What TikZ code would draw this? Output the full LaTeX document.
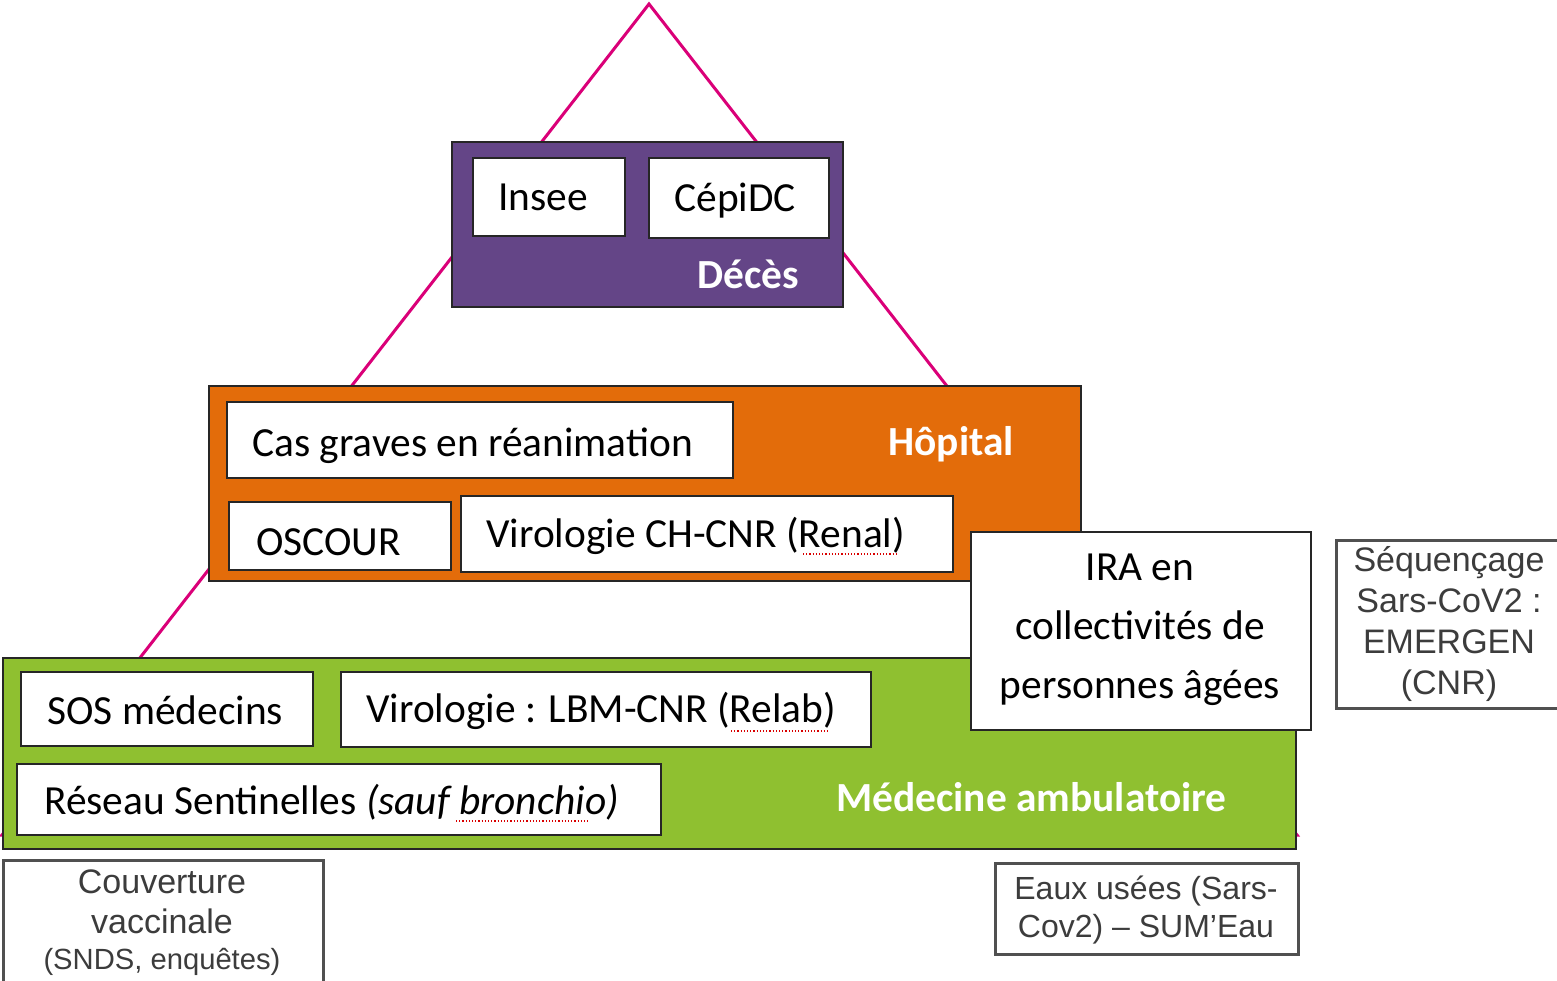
\documentclass[tikz,border=0pt]{standalone}
\usepackage{fontspec}
\setmainfont{Carlito}
\newfontfamily\arialf{Liberation Sans}
\definecolor{tricol}{RGB}{218,0,120}
\definecolor{purp}{RGB}{100,69,135}
\definecolor{oran}{RGB}{227,108,10}
\definecolor{gree}{RGB}{143,192,48}
\definecolor{gtext}{RGB}{60,60,60}
\definecolor{gline}{RGB}{80,80,80}
\begin{document}
\begin{tikzpicture}[x=0.5pt,y=-0.5pt,
  tri/.style={draw=tricol, line width=1.5pt},
  layer/.style={draw=black!85, line width=1pt, anchor=north west, inner sep=0},
  wbox/.style={draw=black!85, fill=white, line width=0.8pt, anchor=north west, inner sep=0},
  gbox/.style={draw=gline, fill=white, line width=1.7pt, anchor=north west, inner sep=0},
  lbl/.style={inner sep=0, anchor=west, text height=13.3pt, text depth=0pt, font=\fontsize{20.7}{29.5}\selectfont},
  blbl/.style={inner sep=0, anchor=base west, text=white, font=\bfseries\fontsize{20.7}{29.5}\selectfont},
  arl/.style={inner sep=0, align=center, text=gtext},
  squig/.style={draw=red!85!black, densely dotted, line width=0.6pt}
]
\useasboundingbox (0,0) rectangle (1557,980);
% triangle
\coordinate (apex) at (649,4);
\coordinate (bl) at (2,835);
\coordinate (br) at (1297,835);
\draw[tri] (apex) -- (bl) -- (br) -- cycle;

% Deces layer
\node[layer, fill=purp, minimum width=195.5pt, minimum height=82.5pt] (deces) at (451,141) {};
\node[wbox, minimum width=76pt, minimum height=39pt] (insee) at (472,157) {};
\node[lbl] (insee-t) at ([xshift=13pt]insee.west) {Insee};
\node[wbox, minimum width=90pt, minimum height=40pt] (cepidc) at (648,157) {};
\node[lbl] (cepidc-t) at ([xshift=13pt]cepidc.west) {CépiDC};
\node[blbl] (deces-t) at (697,288) {Décès};

% Hopital layer
\node[layer, fill=oran, minimum width=436pt, minimum height=97.5pt] (hop) at (208,385) {};
\node[wbox, minimum width=253pt, minimum height=38pt] (cas) at (226,401) {};
\node[lbl] (cas-t) at ([xshift=13pt,yshift=-1.5pt]cas.west) {Cas graves en réanimation};
\node[wbox, minimum width=111pt, minimum height=34pt] (osc) at (228,501) {};
\node[lbl] (osc-t) at ([xshift=14pt,yshift=-3pt]osc.west) {OSCOUR};
\node[wbox, minimum width=246pt, minimum height=38pt] (vch) at (460,495) {};
\node[lbl] (vch-t) at ([xshift=13pt]vch.west) {Virologie CH-CNR (Renal)};
\node[blbl] (hop-t) at (888,455) {Hôpital};
\draw[squig] (803,554) -- (897,554);

% Medecine ambulatoire layer
\node[layer, fill=gree, minimum width=646.5pt, minimum height=95.5pt] (amb) at (2,657) {};
\node[wbox, minimum width=146pt, minimum height=37pt] (sos) at (20,671) {};
\node[lbl] (sos-t) at ([xshift=13.5pt,yshift=-1pt]sos.west) {SOS médecins};
\node[wbox, minimum width=265pt, minimum height=37.5pt] (vlbm) at (340,671) {};
\node[lbl] (vlbm-t) at ([xshift=13pt]vlbm.west) {Virologie : LBM-CNR (Relab)};
\node[wbox, minimum width=322pt, minimum height=35.5pt] (res) at (16,763) {};
\node[lbl] (res-t) at ([xshift=14pt,yshift=-1pt]res.west) {Réseau Sentinelles \textit{(sauf bronchio)}};
\node[blbl] (amb-t) at (836,811) {Médecine ambulatoire};
\draw[squig] (731,731) -- (829,731);
\draw[squig] (456,821) -- (590,821);

% IRA
\node[wbox, minimum width=170pt, minimum height=99pt] (ira) at (970,531) {};
\node[inner sep=0, align=center, font=\fontsize{20.7}{29.5}\selectfont] (ira-t) at (1140,630) {IRA en\\collectivités de\\personnes âgées};

% Sequencage
\node[gbox, minimum width=111pt, minimum height=84pt] (seq) at (1335,539) {};
\node[arl, font=\arialf\fontsize{17}{20.5}\selectfont] (seq-t) at (1449,624) {Séquençage\\Sars-CoV2 :\\EMERGEN\\(CNR)};

% Couverture vaccinale
\node[gbox, minimum width=160pt, minimum height=64pt] (couv) at (2,859) {};
\node[arl, anchor=center, font=\arialf\fontsize{17}{20}\selectfont] (couv-t) at (162,923) {Couverture\\vaccinale\\[-2pt]{\fontsize{14.6}{16}\selectfont(SNDS, enquêtes)}};

% Eaux usees
\node[gbox, minimum width=151.5pt, minimum height=45.5pt] (eaux) at (994,862) {};
\node[arl, font=\arialf\fontsize{16}{19}\selectfont] (eaux-t) at (1146,910) {Eaux usées (Sars-\\Cov2) – SUM’Eau};
\end{tikzpicture}
\end{document}
